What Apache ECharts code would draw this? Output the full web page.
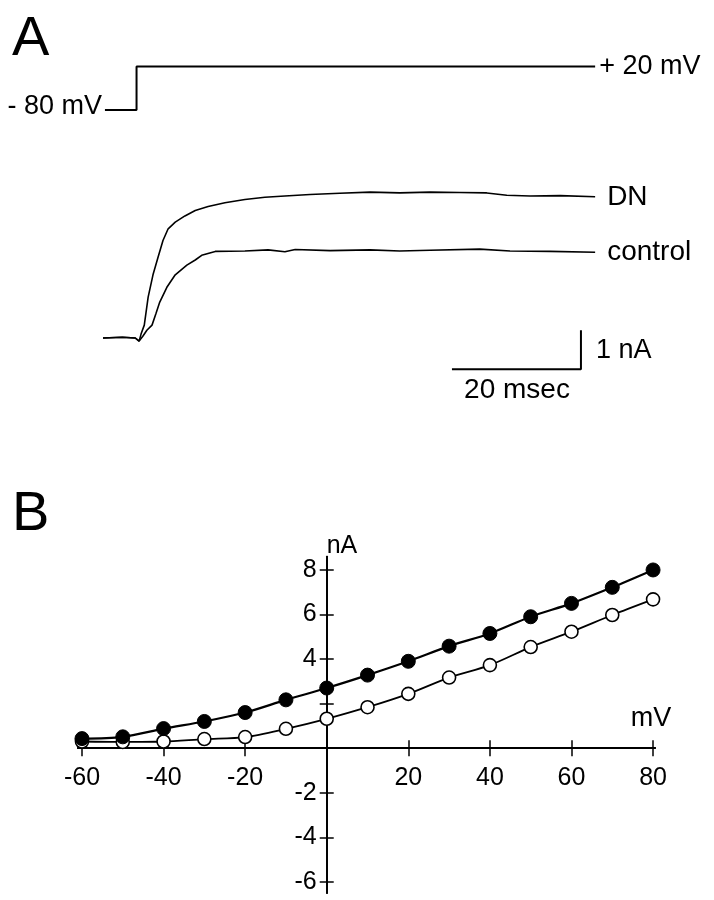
<!DOCTYPE html>
<html>
<head>
<meta charset="utf-8">
<script src="https://cdn.jsdelivr.net/npm/echarts@6/dist/echarts.min.js"></script>
<style>
html,body{margin:0;padding:0;background:#fff;}
#c{width:714px;height:900px;}
</style>
</head>
<body>
<div id="c"></div>
<script>
// ---------- Panel A : voltage command (time ms, mV) ----------
var voltTime = [0.3, 5.2, 5.2, 76.3];
var voltMV   = [-80, -80, 20, 20];

// ---------- Panel A : current traces (time ms, nA) ----------
var dnTime = [0, 3, 5, 5.6, 5.9, 6.4, 7.0, 7.75, 8.5, 9.3, 10.1, 11.2, 12.7, 14.3, 16.3, 18.9, 22.0, 25.1, 28.2, 32.1, 36.7, 41.4, 46.0, 50.7, 55.3, 59.5, 62.6, 66.2, 70.9, 76.3];
var dnNA   = [0, 0.02, 0, -0.08, 0.1, 0.33, 1.05, 1.62, 2.05, 2.5, 2.8, 2.97, 3.13, 3.27, 3.37, 3.47, 3.55, 3.61, 3.64, 3.68, 3.71, 3.74, 3.72, 3.74, 3.73, 3.72, 3.66, 3.64, 3.65, 3.62];
var ctlTime = [0, 3, 5, 5.6, 6.2, 6.8, 7.6, 8.2, 8.8, 9.9, 11.2, 13.0, 14.3, 15.3, 17.4, 22.0, 25.6, 28.2, 29.8, 35.2, 41.4, 46.0, 50.7, 58.4, 63.1, 69.3, 76.3];
var ctlNA   = [0, 0.02, 0, -0.08, 0.05, 0.2, 0.33, 0.62, 0.92, 1.3, 1.62, 1.87, 2.0, 2.12, 2.22, 2.23, 2.26, 2.21, 2.27, 2.24, 2.26, 2.23, 2.25, 2.28, 2.23, 2.22, 2.2];

// scale bar: 20 ms x 1 nA
var barTime = [54.1, 74.1, 74.1];
var barNA   = [-0.8, -0.8, 0.2];

// ---------- Panel B : I-V relation ----------
var ivVoltage = [-60, -50, -40, -30, -20, -10, 0, 10, 20, 30, 40, 50, 60, 70, 80];
var ivDN      = [0.43, 0.51, 0.88, 1.2, 1.6, 2.17, 2.7, 3.28, 3.9, 4.58, 5.15, 5.9, 6.5, 7.22, 8.0];
var ivControl = [0.3, 0.28, 0.3, 0.41, 0.5, 0.87, 1.32, 1.84, 2.44, 3.17, 3.73, 4.54, 5.23, 5.98, 6.68];
var xTicks  = [-60, -40, -20, 20, 40, 60, 80];
var xLabels = [-60, -40, -20, 20, 40, 60, 80];
var yTicks  = [-6, -4, -2, 2, 4, 6, 8];
var yLabels = [-6, -4, -2, 4, 6, 8];

function zip(a, b) { return a.map(function (v, i) { return [v, b[i]]; }); }

var FONT = '"Liberation Sans", Arial, Helvetica, sans-serif';
var chart = echarts.init(document.getElementById('c'), null, {renderer: 'canvas'});

// IV grid geometry and axis extents
var ivGrid = {left: 77.9, top: 556.6, width: 577.2, height: 336.4};
var ivX = {min: -61, max: 80.5};
var ivY = {min: -6.5, max: 8.6};
// place the axes so that they cross at the origin (labels follow the lines)
var yAxisOffset = -((0 - ivX.min) / (ivX.max - ivX.min) * ivGrid.width);
var xAxisOffset = -((0 - ivY.min) / (ivY.max - ivY.min) * ivGrid.height);

var lineBlack = {color: '#000', width: 1.8};
var tickStyle = {color: '#000', width: 1.5};

function ivXAxis(inside, withLabels) {
  return {type: 'value', gridIndex: 2, min: ivX.min, max: ivX.max, position: 'bottom', offset: xAxisOffset,
    axisLine: {show: true, onZero: false, lineStyle: lineBlack},
    axisTick: {show: true, inside: inside, length: 8, lineStyle: tickStyle, customValues: xTicks},
    axisLabel: withLabels ? {show: true, margin: 17, color: '#000', fontSize: 25, fontFamily: FONT, customValues: xLabels} : {show: false},
    splitLine: {show: false}};
}
function ivYAxis(inside, withLabels) {
  return {type: 'value', gridIndex: 2, min: ivY.min, max: ivY.max, position: 'left', offset: yAxisOffset,
    axisLine: {show: true, onZero: false, lineStyle: lineBlack},
    axisTick: {show: true, inside: inside, length: 7, lineStyle: tickStyle, customValues: yTicks},
    axisLabel: withLabels ? {show: true, margin: 10, color: '#000', fontSize: 25, fontFamily: FONT, customValues: yLabels} : {show: false},
    splitLine: {show: false}};
}

var option = {
  animation: false,
  backgroundColor: '#fff',
  textStyle: {fontFamily: FONT},
  grid: [
    {left: 103, top: 57.8, width: 503.1, height: 60.9, outerBoundsMode: 'none', containLabel: false},
    {left: 103, top: 182, width: 503.1, height: 214.5, outerBoundsMode: 'none', containLabel: false},
    {left: ivGrid.left, top: ivGrid.top, width: ivGrid.width, height: ivGrid.height, outerBoundsMode: 'none', containLabel: false}
  ],
  xAxis: [
    {type: 'value', gridIndex: 0, min: 0, max: 78, show: false},
    {type: 'value', gridIndex: 1, min: 0, max: 78, show: false},
    ivXAxis(false, true),
    ivXAxis(true, false)
  ],
  yAxis: [
    {type: 'value', gridIndex: 0, min: -100, max: 40, show: false},
    {type: 'value', gridIndex: 1, min: -1.5, max: 4, show: false},
    ivYAxis(false, true),
    ivYAxis(true, false)
  ],
  series: [
    {name: '+ 20 mV', type: 'line', xAxisIndex: 0, yAxisIndex: 0, data: zip(voltTime, voltMV),
      showSymbol: false, lineStyle: {color: '#000', width: 2},
      endLabel: {show: true, formatter: '+ 20 mV', color: '#000', fontSize: 27, fontFamily: FONT, distance: 4}},
    {name: 'DN', type: 'line', xAxisIndex: 1, yAxisIndex: 1, data: zip(dnTime, dnNA),
      showSymbol: false, lineStyle: {color: '#000', width: 1.6},
      endLabel: {show: true, formatter: 'DN', color: '#000', fontSize: 28, fontFamily: FONT, distance: 12}},
    {name: 'control', type: 'line', xAxisIndex: 1, yAxisIndex: 1, data: zip(ctlTime, ctlNA),
      showSymbol: false, lineStyle: {color: '#000', width: 1.6},
      endLabel: {show: true, formatter: 'control', color: '#000', fontSize: 28, fontFamily: FONT, distance: 12}},
    {name: 'scale', type: 'line', xAxisIndex: 1, yAxisIndex: 1, data: zip(barTime, barNA),
      showSymbol: false, lineStyle: {color: '#000', width: 2}},
    {name: 'control I-V', type: 'line', xAxisIndex: 2, yAxisIndex: 2, data: zip(ivVoltage, ivControl),
      smooth: 0.3, symbol: 'circle', symbolSize: 13,
      itemStyle: {color: '#fff', borderColor: '#000', borderWidth: 1.6},
      lineStyle: {color: '#000', width: 1.8}},
    {name: 'DN I-V', type: 'line', xAxisIndex: 2, yAxisIndex: 2, data: zip(ivVoltage, ivDN),
      smooth: 0.3, symbol: 'circle', symbolSize: 14,
      itemStyle: {color: '#000', borderColor: '#000', borderWidth: 1},
      lineStyle: {color: '#000', width: 2.2}}
  ],
  graphic: [
    {type: 'text', x: 12, y: 12, style: {text: 'A', fontSize: 56, fontFamily: FONT, fill: '#000'}},
    {type: 'text', x: 12, y: 487, style: {text: 'B', fontSize: 56, fontFamily: FONT, fill: '#000'}},
    {type: 'text', x: 102, y: 107, style: {text: '- 80 mV', fontSize: 27, fontFamily: FONT, fill: '#000', align: 'right', verticalAlign: 'middle'}},
    {type: 'text', x: 596, y: 351, style: {text: '1 nA', fontSize: 27, fontFamily: FONT, fill: '#000', align: 'left', verticalAlign: 'middle'}},
    {type: 'text', x: 517, y: 390, style: {text: '20 msec', fontSize: 28, fontFamily: FONT, fill: '#000', align: 'center', verticalAlign: 'middle'}},
    {type: 'text', x: 342, y: 546, style: {text: 'nA', fontSize: 25, fontFamily: FONT, fill: '#000', align: 'center', verticalAlign: 'middle'}},
    {type: 'text', x: 651, y: 719, style: {text: 'mV', fontSize: 27, fontFamily: FONT, fill: '#000', align: 'center', verticalAlign: 'middle'}}
  ]
};
chart.setOption(option);
</script>
</body>
</html>
